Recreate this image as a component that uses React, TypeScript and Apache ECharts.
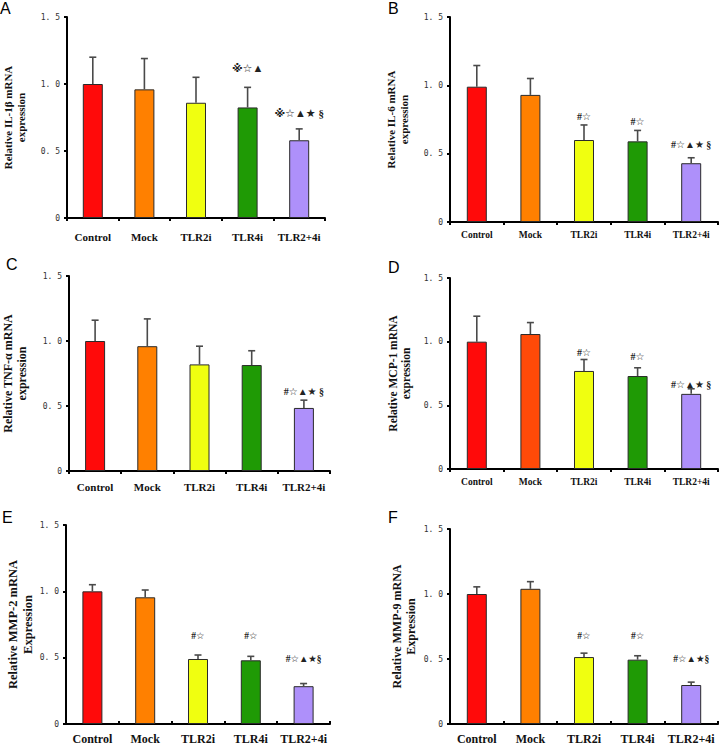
import React, { useEffect, useRef } from "react";
import * as echarts from "echarts";

// ---------- data ----------
const categories = ["Control", "Mock", "TLR2i", "TLR4i", "TLR2+4i"];
const yTicks = [0, 0.5, 1.0, 1.5];

const il1bMeans = [1.0, 0.96, 0.86, 0.825, 0.58];
const il1bSd = [0.2, 0.23, 0.19, 0.15, 0.085];
const il1bMarks = ["", "", "", "※☆▲", "※☆▲★ §"];
const il1bMarkLevels = [null, null, null, 1.12, 0.78];

const il6Means = [0.99, 0.93, 0.6, 0.59, 0.43];
const il6Sd = [0.155, 0.12, 0.11, 0.08, 0.04];
const il6Marks = ["", "", "#☆", "#☆", "#☆▲★ §"];
const il6MarkLevels = [null, null, 0.775, 0.735, 0.57];

const tnfMeans = [1.0, 0.96, 0.82, 0.815, 0.485];
const tnfSd = [0.16, 0.21, 0.14, 0.11, 0.06];
const tnfMarks = ["", "", "", "", "#☆▲★ §"];
const tnfMarkLevels = [null, null, null, null, 0.61];

const mcp1Means = [1.0, 1.06, 0.77, 0.73, 0.59];
const mcp1Sd = [0.2, 0.09, 0.09, 0.065, 0.04];
const mcp1Marks = ["", "", "#☆", "#☆", "#☆▲★ §"];
const mcp1MarkLevels = [null, null, 0.915, 0.88, 0.66];

const mmp2Means = [1.0, 0.955, 0.49, 0.48, 0.285];
const mmp2Sd = [0.05, 0.055, 0.03, 0.03, 0.02];
const mmp2Marks = ["", "", "#☆", "#☆", "#☆▲★§"];
const mmp2MarkLevels = [null, null, 0.665, 0.66, 0.49];

const mmp9Means = [1.0, 1.04, 0.515, 0.495, 0.3];
const mmp9Sd = [0.055, 0.055, 0.03, 0.03, 0.022];
const mmp9Marks = ["", "", "#☆", "#☆", "#☆▲★§"];
const mmp9MarkLevels = [null, null, 0.68, 0.68, 0.5];

const barColors = ["#ff0a0a", "#ff8000", "#f0ff10", "#1f9a05", "#ae90fa"];
const barColorsD = ["#ff0a0a", "#ff4a08", "#f0ff10", "#1f9a05", "#ae90fa"];

// ---------- layout ----------
const SERIF = "'Liberation Serif', 'Times New Roman', serif";
const SYM = "'Liberation Serif', 'DejaVu Sans', 'Noto Sans CJK SC', serif";

const panels = [
  { letter: "A", lx: 0, ly: 0, name: "Relative IL-1β mRNA\nexpression", means: il1bMeans, sd: il1bSd, marks: il1bMarks, levels: il1bMarkLevels, colors: barColors,
    grid: { left: 66, top: 17, width: 259, height: 201 }, catFont: 11, catMargin: 13, nameFont: 11, nameGap: 40, markFont: 11, tickInside: false },
  { letter: "B", lx: 388, ly: 0, name: "Relative IL-6 mRNA\nexpression", means: il6Means, sd: il6Sd, marks: il6Marks, levels: il6MarkLevels, colors: barColors,
    grid: { left: 450, top: 17, width: 268, height: 205 }, catFont: 9.5, catMargin: 8, nameFont: 11, nameGap: 40, markFont: 10, tickInside: false },
  { letter: "C", lx: 6, ly: 256, name: "Relative TNF-α mRNA\nexpression", means: tnfMeans, sd: tnfSd, marks: tnfMarks, levels: tnfMarkLevels, colors: barColors,
    grid: { left: 66, top: 276, width: 264, height: 195 }, catFont: 11, catMargin: 10, nameFont: 12, nameGap: 40, markFont: 10, tickInside: false },
  { letter: "D", lx: 388, ly: 259, name: "Relative MCP-1 mRNA\nexpression", means: mcp1Means, sd: mcp1Sd, marks: mcp1Marks, levels: mcp1MarkLevels, colors: barColorsD,
    grid: { left: 450, top: 278, width: 268, height: 191 }, catFont: 9.5, catMargin: 8, nameFont: 11.5, nameGap: 37, markFont: 10, tickInside: false },
  { letter: "E", lx: 2, ly: 509, name: "Relative MMP-2 mRNA\nExpression", means: mmp2Means, sd: mmp2Sd, marks: mmp2Marks, levels: mmp2MarkLevels, colors: barColors,
    grid: { left: 66, top: 525, width: 264, height: 202 }, catFont: 12, catMargin: 9, nameFont: 12.5, nameGap: 31, markFont: 9.5, tickInside: true },
  { letter: "F", lx: 388, ly: 509, name: "Relative MMP-9 mRNA\nExpression", means: mmp9Means, sd: mmp9Sd, marks: mmp9Marks, levels: mmp9MarkLevels, colors: barColors,
    grid: { left: 450, top: 529, width: 268, height: 196 }, catFont: 12, catMargin: 9, nameFont: 12, nameGap: 32, markFont: 9.5, tickInside: true },
];

function yLabel(v: number) {
  if (v === 0) return "0";
  return v.toFixed(1).replace(".", ". ");
}

function buildOption() {
  const grid: any[] = [];
  const xAxis: any[] = [];
  const yAxis: any[] = [];
  const series: any[] = [];
  const graphic: any[] = [];

  panels.forEach((p, i) => {
    grid.push({ ...p.grid, containLabel: false });
    xAxis.push({
      type: "category",
      gridIndex: i,
      data: categories,
      boundaryGap: true,
      axisLine: { show: true, lineStyle: { color: "#000", width: 2 } },
      axisTick: { show: true, alignWithLabel: false, inside: p.tickInside, length: 3, lineStyle: { color: "#000", width: 2 } },
      axisLabel: { fontFamily: SERIF, fontWeight: "bold", fontSize: p.catFont, color: "#111", margin: p.catMargin, interval: 0 },
      splitLine: { show: false },
    });
    yAxis.push({
      type: "value",
      gridIndex: i,
      min: 0,
      max: 1.5,
      interval: 0.5,
      name: p.name,
      nameLocation: "middle",
      nameGap: p.nameGap,
      nameTextStyle: { fontFamily: SERIF, fontWeight: "bold", fontSize: p.nameFont, lineHeight: p.nameFont + 2, color: "#111" },
      axisLine: { show: true, lineStyle: { color: "#000", width: 2 } },
      axisTick: { show: true, length: 3, lineStyle: { color: "#000", width: 2 } },
      axisLabel: { formatter: (v: number) => yLabel(v), fontFamily: "'DejaVu Sans Mono', monospace", fontSize: 8, color: "#333", margin: 7, customValues: yTicks },
      splitLine: { show: false },
    });
    series.push({
      type: "bar",
      xAxisIndex: i,
      yAxisIndex: i,
      barWidth: 20,
      data: p.means.map((m, j) => ({ value: m, itemStyle: { color: p.colors[j], borderColor: "#2a2a2a", borderWidth: 1 } })),
      z: 2,
    });
    const sd = p.sd;
    series.push({
      type: "custom",
      xAxisIndex: i,
      yAxisIndex: i,
      z: 3,
      encode: { x: 0, y: 2 },
      data: p.means.map((m, j) => [j, m, m + sd[j]]),
      renderItem: (params: any, api: any) => {
        const c = api.value(0);
        const p0 = api.coord([c, api.value(1)]);
        const p1 = api.coord([c, api.value(2)]);
        const st = { stroke: "#4a4a4a", lineWidth: 1.6 };
        return {
          type: "group",
          children: [
            { type: "line", shape: { x1: p0[0], y1: p0[1], x2: p1[0], y2: p1[1] }, style: st },
            { type: "line", shape: { x1: p1[0] - 3.5, y1: p1[1], x2: p1[0] + 3.5, y2: p1[1] }, style: st },
          ],
        };
      },
    });
    const texts: string[] = [];
    const markData: any[] = [];
    p.marks.forEach((t, j) => {
      const lv = p.levels[j];
      if (t && lv !== null) {
        texts.push(t);
        markData.push([j, lv]);
      }
    });
    const mf = p.markFont;
    series.push({
      type: "custom",
      xAxisIndex: i,
      yAxisIndex: i,
      z: 4,
      encode: { x: 0, y: 1 },
      data: markData,
      renderItem: (params: any, api: any) => {
        const pt = api.coord([api.value(0), api.value(1)]);
        return {
          type: "text",
          x: pt[0],
          y: pt[1],
          style: { text: texts[params.dataIndex], fontFamily: SYM, fontSize: mf, fontWeight: "bold", fill: "#222", align: "center", verticalAlign: "middle" },
        };
      },
    });
    graphic.push({
      type: "text",
      left: p.lx,
      top: p.ly,
      style: { text: p.letter, fontFamily: "'Liberation Sans', Arial, sans-serif", fontSize: 16, fontWeight: "normal", fill: "#000" },
    });
  });

  return { animation: false, backgroundColor: "#fff", grid, xAxis, yAxis, series, graphic };
}

export default function App() {
  const ref = useRef<HTMLDivElement>(null);
  useEffect(() => {
    const chart = echarts.init(ref.current as HTMLDivElement, null, { renderer: "svg" });
    chart.setOption(buildOption() as any);
    return () => chart.dispose();
  }, []);
  return <div ref={ref} style={{ position: "absolute", left: 0, top: 0, width: 720, height: 745, background: "#fff" }} />;
}
